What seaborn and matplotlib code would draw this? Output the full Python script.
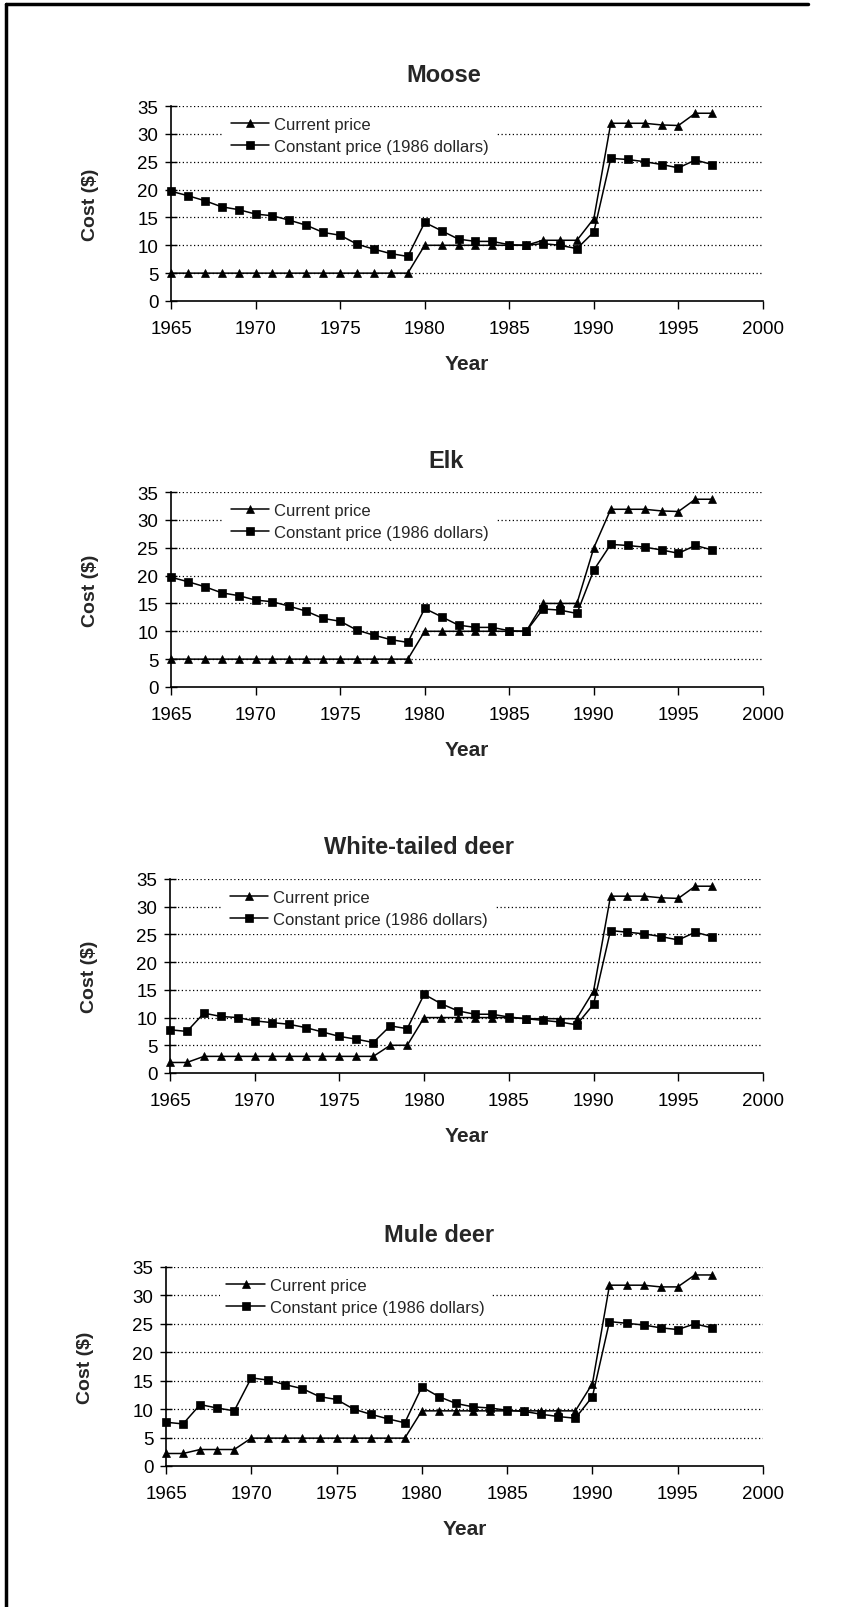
import matplotlib
matplotlib.use("Agg")
import matplotlib.pyplot as plt
from matplotlib.lines import Line2D
import pandas as pd
import seaborn as sns

# data
years = list(range(1965, 1998))
species = ["Moose", "Elk", "White-tailed deer", "Mule deer"]
series_names = ["Current price", "Constant price (1986 dollars)"]

moose_current = [5, 5, 5, 5, 5, 5, 5, 5, 5, 5, 5, 5, 5, 5, 5,
                 10, 10, 10, 10, 10, 10, 10, 10.9, 10.9, 10.9, 14.8,
                 31.9, 31.9, 31.9, 31.6, 31.5, 33.7, 33.7]
moose_constant = [19.7, 18.9, 18.0, 16.9, 16.4, 15.6, 15.3, 14.5, 13.6, 12.3, 11.8, 10.2, 9.3, 8.5, 8.0,
                  14.1, 12.6, 11.1, 10.7, 10.7, 10.1, 10.0, 10.3, 10.0, 9.4, 12.4,
                  25.6, 25.4, 25.0, 24.5, 23.9, 25.3, 24.5]

elk_current = [5, 5, 5, 5, 5, 5, 5, 5, 5, 5, 5, 5, 5, 5, 5,
               10, 10, 10, 10, 10, 10, 10, 15, 15, 15, 25,
               31.9, 31.9, 31.9, 31.6, 31.5, 33.7, 33.7]
elk_constant = [19.7, 18.9, 18.0, 16.9, 16.4, 15.6, 15.3, 14.5, 13.6, 12.3, 11.8, 10.2, 9.3, 8.5, 8.0,
                14.1, 12.6, 11.1, 10.7, 10.7, 10.1, 10.0, 14.0, 13.8, 13.2, 21.0,
                25.6, 25.4, 25.1, 24.6, 24.0, 25.4, 24.6]

wtd_current = [1.9, 1.9, 3, 3, 3, 3, 3, 3, 3, 3, 3, 3, 3, 5, 5,
               10, 10, 10, 10, 10, 10, 9.8, 9.8, 9.8, 9.8, 14.8,
               31.9, 31.9, 31.9, 31.6, 31.5, 33.7, 33.7]
wtd_constant = [7.8, 7.5, 10.8, 10.2, 10.0, 9.4, 9.1, 8.8, 8.2, 7.4, 6.6, 6.1, 5.5, 8.5, 8.0,
                14.2, 12.5, 11.2, 10.6, 10.6, 10.1, 9.8, 9.5, 9.2, 8.7, 12.4,
                25.7, 25.4, 25.1, 24.6, 24.0, 25.4, 24.6]

mule_current = [2.2, 2.2, 2.9, 2.9, 2.9, 4.9, 4.9, 4.9, 4.9, 4.9, 4.9, 4.9, 4.9, 4.9, 4.9,
                9.7, 9.7, 9.7, 9.7, 9.7, 9.7, 9.7, 9.7, 9.7, 9.7, 14.5,
                31.8, 31.8, 31.8, 31.5, 31.5, 33.6, 33.6]
mule_constant = [7.7, 7.4, 10.8, 10.2, 9.7, 15.5, 15.1, 14.3, 13.6, 12.2, 11.7, 10.0, 9.1, 8.3, 7.6,
                 13.9, 12.2, 11.0, 10.4, 10.2, 9.8, 9.6, 9.1, 8.7, 8.4, 12.2,
                 25.4, 25.1, 24.8, 24.3, 24.0, 25.0, 24.3]

all_values = [
    (moose_current, moose_constant),
    (elk_current, elk_constant),
    (wtd_current, wtd_constant),
    (mule_current, mule_constant),
]

rows = []
for sp, (cur, con) in zip(species, all_values):
    for name, vals in zip(series_names, (cur, con)):
        for yr, v in zip(years, vals):
            rows.append({"species": sp, "series": name, "year": yr, "cost": v})
df = pd.DataFrame(rows)

sns.set_style("white")
plt.rcParams["font.family"] = ["Liberation Sans", "DejaVu Sans"]

W, H = 862, 1608
fig = plt.figure(figsize=(W / 100, H / 100), dpi=100)

# panel boxes in pixels: left, right, top, bottom
boxes = [(171, 763, 107, 302), (171, 763, 493, 688), (170, 763, 880, 1074), (166, 763, 1268, 1467)]
title_x = [0.46, 0.465, 0.42, 0.458]
markers = {"Current price": "^", "Constant price (1986 dollars)": "s"}

for sp, (l, r, t, b), tx in zip(species, boxes, title_x):
    ax = fig.add_axes([l / W, 1 - b / H, (r - l) / W, (b - t) / H])
    sub = df[df["species"] == sp]
    for name in series_names:
        sns.lineplot(
            data=sub[sub["series"] == name],
            x="year",
            y="cost",
            ax=ax,
            color="black",
            linewidth=1.1,
            marker=markers[name],
            markersize=6.3,
            markeredgecolor="black",
            markeredgewidth=0.5,
            label=name,
            clip_on=False,
            zorder=5,
        )

    ax.set_xlim(1965, 2000)
    ax.set_ylim(0, 35)
    ax.set_xticks(range(1965, 2001, 5))
    ax.set_yticks(range(0, 36, 5))
    ax.grid(False)
    for yv in range(5, 36, 5):
        ax.axhline(yv, color="black", linewidth=0.9, linestyle=(0, (1, 2)), zorder=1)

    for side in ("top", "right"):
        ax.spines[side].set_visible(False)
    for side in ("left", "bottom"):
        ax.spines[side].set_color("black")
        ax.spines[side].set_linewidth(1.2)

    ax.tick_params(axis="x", direction="out", length=6, width=1, colors="black",
                   labelsize=13.5, pad=8, bottom=True)
    ax.tick_params(axis="y", direction="inout", length=8, width=1, colors="black",
                   labelsize=13.5, pad=5, left=True)

    ax.set_xlabel("Year", fontsize=15, fontweight="bold")
    ax.set_ylabel("Cost ($)", fontsize=14, fontweight="bold")
    ax.xaxis.set_label_coords(0.5, -53 / (b - t))
    ax.yaxis.set_label_coords(-72 / (r - l), 0.5)
    ax.text(tx, 1 + 32 / (b - t), sp, transform=ax.transAxes, ha="center", va="center",
            fontsize=17, fontweight="bold")

    leg = ax.legend(
        loc="upper left",
        bbox_to_anchor=(0.09, 0.98),
        frameon=True,
        fontsize=12,
        handlelength=2.3,
        handletextpad=0.3,
        labelspacing=0.45,
        borderpad=0.4,
        borderaxespad=0,
        fancybox=False,
    )
    leg.get_frame().set_facecolor("white")
    leg.get_frame().set_edgecolor("none")
    leg.get_frame().set_alpha(1)
    leg.set_zorder(3)

# scan border on the left and top
fig.add_artist(Line2D([6 / W, 6 / W], [0, 1 - 5 / H], color="black", linewidth=2.5,
                      transform=fig.transFigure))
fig.add_artist(Line2D([6 / W, 808 / W], [1 - 5 / H, 1 - 5 / H], color="black", linewidth=2.5,
                      transform=fig.transFigure))

fig.savefig("out.png", dpi=100, facecolor="white")
